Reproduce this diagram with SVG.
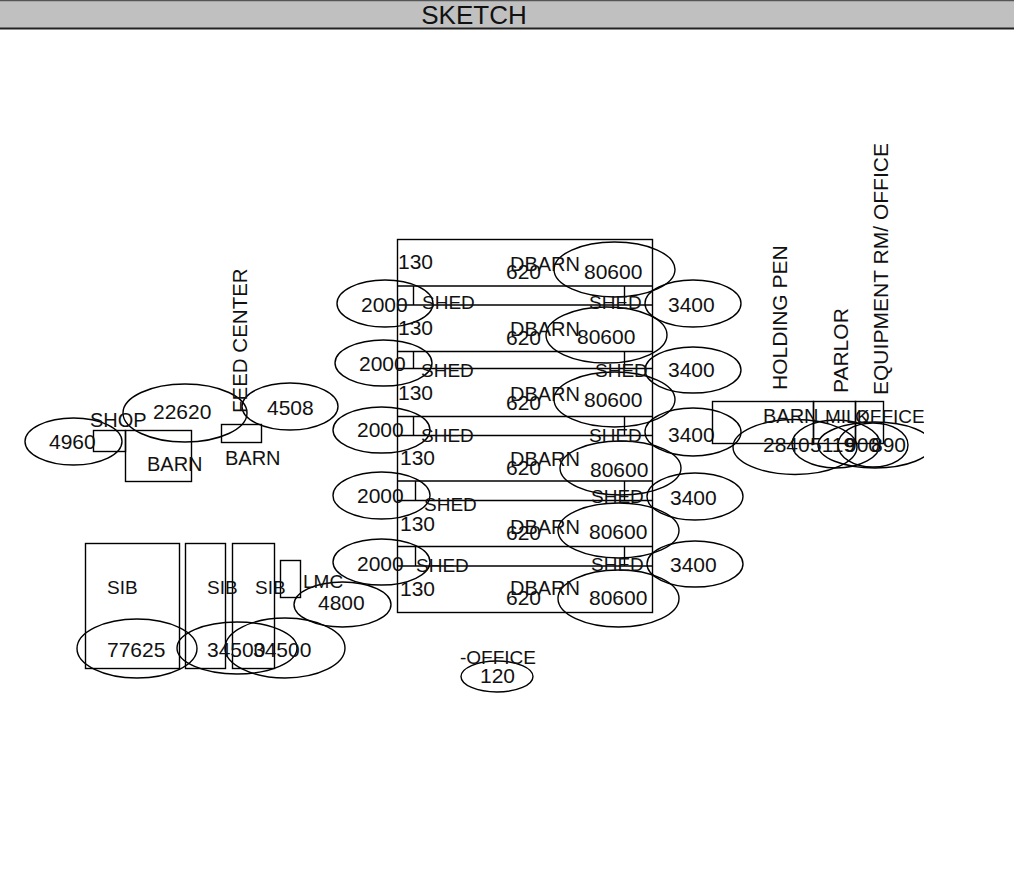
<svg xmlns="http://www.w3.org/2000/svg" width="1014" height="873" viewBox="0 0 1014 873">
<style>
text{font-family:"Liberation Sans",Arial,sans-serif;font-size:20px;fill:#111}
.n{font-size:21px}
.v{font-size:21px}
.l{font-size:19px}
.t{font-size:26px;text-anchor:middle}
ellipse,rect.s{fill:none;stroke:#000;stroke-width:1.4}
line{stroke:#000;stroke-width:1.4}
</style>
<defs><clipPath id="c"><rect x="0" y="0" width="924" height="873"/></clipPath></defs>
<rect width="1014" height="873" fill="#fff"/>
<g id="title"><rect x="0" y="0" width="1014" height="28" fill="#c0c0c0"/><line x1="0" y1="0.5" x2="1014" y2="0.5" style="stroke:#555"/><line x1="0" y1="28.5" x2="1014" y2="28.5" style="stroke-width:2;stroke:#222"/><text class="t" x="474" y="24">SKETCH</text></g>
<g id="connectors"></g>
<g id="dbarn" clip-path="url(#c)">
<rect class="s" x="397.5" y="239.5" width="255" height="373"/>
<line x1="398" y1="286" x2="652" y2="286"/><line x1="398" y1="305" x2="652" y2="305"/>
<line x1="398" y1="351.5" x2="652" y2="351.5"/><line x1="398" y1="368.5" x2="652" y2="368.5"/>
<line x1="398" y1="416.5" x2="652" y2="416.5"/><line x1="398" y1="435.5" x2="652" y2="435.5"/>
<line x1="398" y1="481" x2="652" y2="481"/><line x1="398" y1="500.5" x2="652" y2="500.5"/>
<line x1="398" y1="546.5" x2="652" y2="546.5"/><line x1="398" y1="566" x2="652" y2="566"/>
<line x1="413.5" y1="286" x2="413.5" y2="305"/><line x1="624.5" y1="286" x2="624.5" y2="305"/>
<line x1="413.5" y1="351" x2="413.5" y2="368"/><line x1="624.5" y1="351" x2="624.5" y2="368"/>
<line x1="413.5" y1="416" x2="413.5" y2="435"/><line x1="624.5" y1="416" x2="624.5" y2="435"/>
<line x1="415.5" y1="481" x2="415.5" y2="500"/><line x1="624.5" y1="481" x2="624.5" y2="500"/>
<line x1="415.5" y1="546" x2="415.5" y2="566"/><line x1="624.5" y1="546" x2="624.5" y2="566"/>
<ellipse cx="385" cy="303.5" rx="48" ry="23.5"/><ellipse cx="383.5" cy="363" rx="48.5" ry="23"/><ellipse cx="381.5" cy="430" rx="48.5" ry="23"/><ellipse cx="381.5" cy="495.5" rx="48.5" ry="23.5"/><ellipse cx="381.5" cy="562" rx="48.5" ry="23"/>
<ellipse cx="693" cy="303.5" rx="48" ry="23.5"/><ellipse cx="693" cy="370" rx="48" ry="23"/><ellipse cx="693" cy="432" rx="48" ry="24"/><ellipse cx="695" cy="496.5" rx="48" ry="23.5"/><ellipse cx="695" cy="564" rx="48" ry="23"/>
<ellipse cx="614.5" cy="269.5" rx="60.5" ry="27.5"/><ellipse cx="606.5" cy="335" rx="60.5" ry="28"/><ellipse cx="614.5" cy="399.5" rx="60.5" ry="27.5"/><ellipse cx="620.5" cy="468" rx="60.5" ry="27"/><ellipse cx="618.5" cy="530.5" rx="60.5" ry="27.5"/><ellipse cx="618.5" cy="598.5" rx="60.5" ry="28.5"/>
<text class="n" x="398" y="269">130</text><text x="510" y="271">DBARN</text><text class="n" x="506" y="279">620</text><text class="n" x="584" y="279">80600</text><text class="n" x="361" y="312">2000</text><text class="l" x="422" y="309">SHED</text><text class="l" x="589" y="309">SHED</text><text class="n" x="668" y="312">3400</text>
<text class="n" x="398" y="335">130</text><text x="510" y="336">DBARN</text><text class="n" x="506" y="345">620</text><text class="n" x="577" y="344">80600</text><text class="n" x="359" y="371">2000</text><text class="l" x="421" y="377">SHED</text><text class="l" x="595" y="377">SHED</text><text class="n" x="668" y="377">3400</text>
<text class="n" x="398" y="400">130</text><text x="510" y="401">DBARN</text><text class="n" x="506" y="410">620</text><text class="n" x="584" y="407">80600</text><text class="n" x="357" y="437">2000</text><text class="l" x="421" y="442">SHED</text><text class="l" x="589" y="442">SHED</text><text class="n" x="668" y="442">3400</text>
<text class="n" x="400" y="465">130</text><text x="510" y="466">DBARN</text><text class="n" x="506" y="475">620</text><text class="n" x="590" y="477">80600</text><text class="n" x="357" y="503">2000</text><text class="l" x="424" y="511">SHED</text><text class="l" x="591" y="503">SHED</text><text class="n" x="670" y="505">3400</text>
<text class="n" x="400" y="531">130</text><text x="510" y="534">DBARN</text><text class="n" x="506" y="540">620</text><text class="n" x="589" y="539">80600</text><text class="n" x="357" y="571">2000</text><text class="l" x="416" y="572">SHED</text><text class="l" x="591" y="571">SHED</text><text class="n" x="670" y="572">3400</text>
<text class="n" x="400" y="596">130</text><text x="510" y="595">DBARN</text><text class="n" x="506" y="605">620</text><text class="n" x="589" y="605">80600</text>
</g>
<g id="office"><ellipse cx="497" cy="676.5" rx="36" ry="15.5"/><text class="l" x="460" y="664">-OFFICE</text><text class="n" x="480" y="683">120</text></g>
<g id="right" clip-path="url(#c)">
<rect class="s" x="712.5" y="401.5" width="101" height="42"/><rect class="s" x="813.5" y="401.5" width="42" height="42"/><rect class="s" x="855.5" y="401.5" width="28" height="42"/>
<ellipse cx="795" cy="447" rx="62" ry="27.5"/><ellipse cx="836" cy="444" rx="44" ry="24"/><ellipse cx="873" cy="445" rx="35" ry="22"/><ellipse cx="875" cy="445" rx="57" ry="23"/>
<text x="763" y="423">BARN</text><text class="l" x="825" y="423">MILK</text><text class="l" x="855" y="423">OFFICE</text>
<text class="n" x="763" y="452">2840</text><text class="n" x="810" y="452">5119</text><text class="n" x="845" y="452">900</text><text class="n" x="871" y="452">890</text>
<text class="v" transform="translate(787 390) rotate(-90)">HOLDING PEN</text><text class="v" transform="translate(848 393) rotate(-90)">PARLOR</text><text class="v" textLength="252" transform="translate(888 395) rotate(-90)">EQUIPMENT RM/ OFFICE</text>
</g>
<g id="left">
<rect class="s" x="93.5" y="430.5" width="32" height="21"/><rect class="s" x="125.5" y="430.5" width="66" height="51"/><rect class="s" x="221.5" y="424.5" width="40" height="18"/>
<ellipse cx="73.5" cy="441.5" rx="48.5" ry="23.5"/><ellipse cx="185" cy="413" rx="62" ry="29"/><ellipse cx="290" cy="406.5" rx="48" ry="23.5"/>
<text class="n" x="49" y="449">4960</text><text x="90" y="427">SHOP</text><text class="n" x="153" y="419">22620</text><text class="n" x="267" y="415">4508</text><text x="147" y="471">BARN</text><text x="225" y="465">BARN</text>
<text transform="translate(247 413) rotate(-90)" style="font-size:20.5px">FEED CENTER</text>
</g>
<g id="sib">
<rect class="s" x="85.5" y="543.5" width="94" height="125"/><rect class="s" x="185.5" y="543.5" width="40" height="125"/><rect class="s" x="232.5" y="543.5" width="42" height="125"/><rect class="s" x="280.5" y="560.5" width="20" height="37"/>
<ellipse cx="137" cy="648.5" rx="60" ry="29.5"/><ellipse cx="237" cy="648" rx="60" ry="26"/><ellipse cx="285" cy="648" rx="60" ry="30"/><ellipse cx="342.5" cy="604.5" rx="48.5" ry="22.5"/>
<text class="l" x="107" y="594">SIB</text><text class="l" x="207" y="594">SIB</text><text class="l" x="255" y="594">SIB</text><text class="l" x="303" y="588">LMC</text><text class="n" x="318" y="610">4800</text>
<text class="n" x="107" y="657">77625</text><text class="n" x="207" y="657">34500</text><text class="n" x="253" y="657">34500</text>
</g>
</svg>
